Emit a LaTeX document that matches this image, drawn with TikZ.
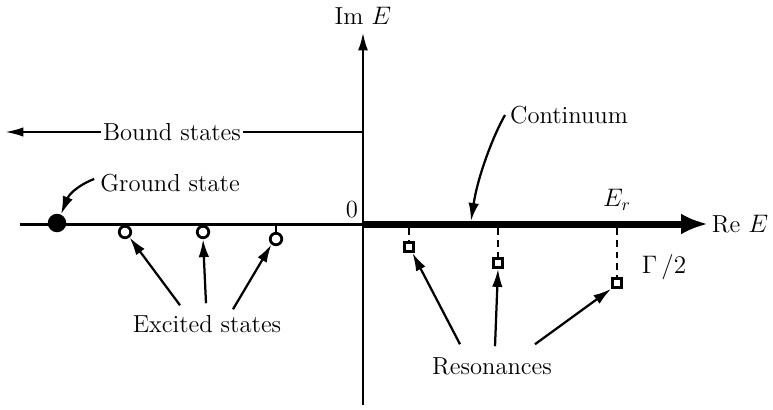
\documentclass[tikz,border=0pt]{standalone}
\usetikzlibrary{arrows.meta,positioning,calc}

\begin{document}
\begin{tikzpicture}[x=0.02cm, y=-0.02cm,
  lbl/.style={inner sep=1pt, font=\fontsize{14}{16}\selectfont},
  pointer/.style={line width=0.045cm, -{Latex[length=0.36cm,width=0.21cm]}},
  exstate/.style={circle, draw, line width=0.055cm, fill=white, minimum size=0.23cm, inner sep=0pt},
  resstate/.style={rectangle, draw, line width=0.055cm, fill=white, minimum size=0.18cm, inner sep=0pt},
  stem/.style={line width=0.045cm, dash pattern=on 0.14cm off 0.1cm}]
  \useasboundingbox (0,0) rectangle (773,409);

  % axes
  \coordinate (O) at (363,224);
  \coordinate (xleft) at (20,224);
  \coordinate (xtip) at (708,224);
  \coordinate (ybot) at (363,405);
  \coordinate (ytip) at (363,32);
  \draw[line width=0.06cm] (xleft) -- (O);
  \draw[line width=0.14cm, -{Latex[length=0.54cm,width=0.42cm]}] (O) -- (xtip);
  \draw[line width=0.055cm, -{Latex[length=0.37cm,width=0.2cm]}] (ybot) -- (ytip);
  \node[lbl, above=3pt of ytip] (imE) {Im $E$};
  \node[lbl, right=1pt of xtip] (reE) {Re $E$};
  \node[lbl] (zero) at (352,210) {0};

  % bound states
  \node[lbl] (bound) at (172,132) {Bound states};
  \coordinate (bleft) at (5,132);
  \draw[line width=0.045cm, -{Latex[length=0.37cm,width=0.19cm]}] (bound.west) -- (bleft);
  \draw[line width=0.045cm] (bound.east) -- (bound.east -| O);

  % ground state
  \node[circle, fill, minimum size=0.37cm, inner sep=0pt] (gs) at (57,223) {};
  \node[lbl] (gslabel) at (170,183) {Ground state};
  \draw[pointer] ([xshift=-0.08cm,yshift=0.08cm]gslabel.west) .. controls (83,183) and (70,192) .. (gs.65);

  % excited states
  \node[exstate] (ex1) at (125,232) {};
  \node[exstate] (ex2) at (203,232) {};
  \node[exstate] (ex3) at (276,239) {};
  \foreach \n in {1,2,3}
    \draw[line width=0.045cm] (ex\n.north) -- (ex\n.north |- O);
  \node[lbl] (exlabel) at (207,324) {Excited states};
  \draw[pointer] ($(exlabel.north)+(-27,-8)$) -- (ex1.-50);
  \draw[pointer] ($(exlabel.north)+(-1,-10)$) -- (ex2.south);
  \draw[pointer] ($(exlabel.north)+(26,-4)$) -- (ex3.-130);

  % continuum
  \node[lbl] (contlabel) at (569,115) {Continuum};
  \coordinate (cont) at (471,221);
  \draw[pointer] ([xshift=-0.06cm]contlabel.west) .. controls (494,134) and (478,175) .. (cont);

  % resonances
  \node[resstate] (rs1) at (409,247) {};
  \node[resstate] (rs2) at (498,263) {};
  \node[resstate] (rs3) at (617,283) {};
  \foreach \n in {1,2,3}
    \draw[stem] ([yshift=-0.07cm]rs\n.north |- O) -- (rs\n.north);
  \node[lbl] (Er) at (617,200) {$E_r$};
  \node[lbl] (gam) at (664,267) {$\Gamma\,/2$};
  \node[lbl] (reslabel) at (492,366) {Resonances};
  \draw[pointer] ($(reslabel.north)+(-32,-11)$) -- (rs1.-60);
  \draw[pointer] ($(reslabel.north)+(3,-9)$) -- (rs2.south);
  \draw[pointer] ($(reslabel.north)+(43,-11)$) -- (rs3.south west);
\end{tikzpicture}
\end{document}
